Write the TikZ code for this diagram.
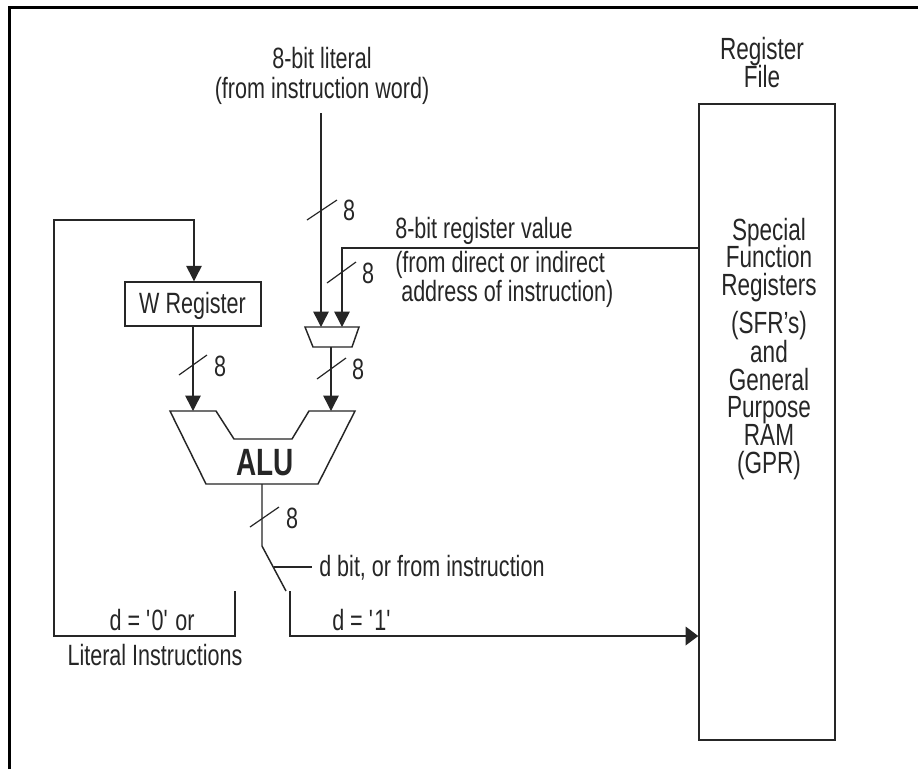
\documentclass[tikz,border=0pt]{standalone}
\usepackage{fontspec}
\setmainfont[FakeStretch=0.735]{Liberation Sans}
\usetikzlibrary{arrows.meta}
\tikzset{
  wire/.style={draw=black!85,line width=1.1pt},
  arrowwire/.style={wire,-{Triangle[length=11.5pt,width=11.5pt]}},
  sidearrow/.style={wire,-{Triangle[length=9.5pt,width=14pt]}},
  slashmark/.style={draw=black!85,line width=0.9pt},
  shapeline/.style={draw=black!85,line width=1.1pt,line join=miter},
  lbl/.style={inner sep=0pt,anchor=base,text=black!85,font=\fontsize{22}{24}\selectfont},
  lblw/.style={lbl,anchor=base west},
  lblr/.style={lbl,font=\fontsize{23}{24}\selectfont},
  lblb/.style={lbl,font=\fontsize{28.5}{28}\selectfont\bfseries},
}
\begin{document}
\begin{tikzpicture}[x=0.75pt,y=-0.75pt]
\useasboundingbox (0,0) rectangle (918,769);
\fill[white] (0,0) rectangle (918,769);
% outer frame
\draw[black,line width=2.5pt] (9.3,769) -- (9.3,7.7) -- (918,7.7);
% boxes
\node[shapeline,minimum width=102pt,minimum height=33pt,inner sep=0pt] (wreg) at (193,304) {};
\node[lbl] (wregt) at (192.5,313) {W Register};
\node[shapeline,minimum width=102pt,minimum height=477pt,inner sep=0pt] (rfile) at (767,422) {};
% coordinates
\coordinate (mtl) at (305,327); \coordinate (mtr) at (359,327);
\coordinate (mbr) at (352,347); \coordinate (mbl) at (313,347);
\coordinate (loopT) at (54,220); \coordinate (loopW) at (194,220);
\coordinate (loopB) at (54,636); \coordinate (swL) at (235,636);
\coordinate (swLt) at (235,591);
\coordinate (swRt) at (290,591); \coordinate (swR) at (290,636);
\coordinate (aluOut) at (262,484); \coordinate (swIn) at (262,546);
\coordinate (swTip) at (286,591); \coordinate (swMid) at (274,567);
\coordinate (lev) at (312,567);
\coordinate (litTop) at (321,113); \coordinate (litIn) at (321,327);
\coordinate (regJ) at (342,248); \coordinate (regIn) at (342,327);
\coordinate (muxOut) at (331,347); \coordinate (aluInR) at (331,411);
\coordinate (aluInL) at (193,411);
\coordinate (fileIn) at (rfile.west |- regJ); \coordinate (fileArr) at (rfile.west |- swR);
% ALU and mux
\draw[shapeline] (170,411) -- (216,411) -- (234,439) -- (292,439) -- (309,411) -- (355,411) -- (318,484) -- (206,484) -- cycle;
\draw[shapeline] (mtl) -- (mtr) -- (mbr) -- (mbl) -- cycle;
\node[lblb] (alu) at (265,475) {ALU};
% connectors
\draw[arrowwire] (swLt) -- (swL) -- (loopB) -- (loopT) -- (loopW) -- (loopW |- wreg.north);
\draw[arrowwire] (wreg.south) -- (aluInL);
\draw[arrowwire] (litTop) -- (litIn);
\draw[arrowwire] (fileIn) -- (regJ) -- (regIn);
\draw[arrowwire] (muxOut) -- (aluInR);
\draw[wire] (aluOut) -- (swIn) -- (swTip);
\draw[wire] (swMid) -- (lev);
\draw[sidearrow] (swRt) -- (swR) -- (fileArr);
% bus slashes
\draw[slashmark] (179,375) -- (207,355);
\draw[slashmark] (307,220) -- (337,200);
\draw[slashmark] (327,283) -- (356,262);
\draw[slashmark] (317,379) -- (346,358);
\draw[slashmark] (250,527) -- (279,507);
\node[lbl] (n1) at (220,376) {8};
\node[lbl] (n2) at (349,220) {8};
\node[lbl] (n3) at (368,283) {8};
\node[lbl] (n4) at (358,379) {8};
\node[lbl] (n5) at (292,528) {8};
% labels
\node[lbl] (t1) at (322,68) {8-bit literal};
\node[lbl] (t2) at (322,98) {(from instruction word)};
\node[lblr] (t3) at (762,59) {Register};
\node[lblr] (t4) at (762,87) {File};
\node[lblw] (t5) at (395,238) {8-bit register value};
\node[lblw] (t6) at (395,272) {(from direct or indirect};
\node[lblw] (t7) at (401,301) {address of instruction)};
\node[lblw] (t8) at (319,576) {d bit, or from instruction};
\node[lbl] (t9) at (152,630) {d = \textquotesingle 0\textquotesingle{} or};
\node[lbl] (t10) at (155,665) {Literal Instructions};
\node[lblw] (t11) at (332,630) {d = \textquotesingle 1\textquotesingle};
\node[lblr] (s1) at (769,240) {Special};
\node[lblr] (s2) at (769,267) {Function};
\node[lblr] (s3) at (769,295) {Registers};
\node[lblr] (s4) at (769,333) {(SFR's)};
\node[lblr] (s5) at (769,362) {and};
\node[lblr] (s6) at (769,390) {General};
\node[lblr] (s7) at (769,417) {Purpose};
\node[lblr] (s8) at (769,445) {RAM};
\node[lblr] (s9) at (769,473) {(GPR)};
\end{tikzpicture}
\end{document}
